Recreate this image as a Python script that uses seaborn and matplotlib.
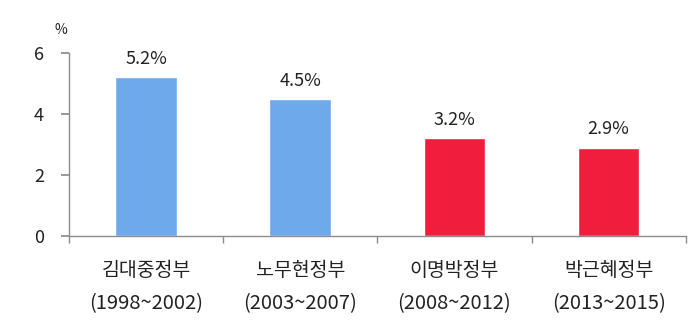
import matplotlib
matplotlib.use("Agg")
import matplotlib.pyplot as plt
import seaborn as sns
import pandas as pd

governments = ["김대중정부", "노무현정부", "이명박정부", "박근혜정부"]
periods = ["(1998~2002)", "(2003~2007)", "(2008~2012)", "(2013~2015)"]
values = [5.2, 4.5, 3.2, 2.9]
value_labels = ["5.2%", "4.5%", "3.2%", "2.9%"]
colors = ["#6EA9EC", "#6EA9EC", "#F01E3C", "#F01E3C"]
yticks = [0, 2, 4, 6]

sns.set_theme(style="white")
plt.rcParams['font.family'] = ['Noto Sans CJK KR', 'DejaVu Sans']

df = pd.DataFrame({"cat": governments, "val": values})
fig = plt.figure(figsize=(7, 3.23), dpi=100)
ax = fig.add_axes([0.0986, 0.269, 0.881, 0.567])
sns.barplot(data=df, x="cat", y="val", hue="cat", palette=colors, legend=False,
            width=0.4, ax=ax, saturation=1)
ax.set_ylim(0, 6)
ax.set_xlim(-0.5, 3.5)
ax.set_yticks(yticks)
ax.set_yticklabels([str(t) for t in yticks], fontsize=13, color="#222222")
ax.set_xlabel("")
ax.set_ylabel("")
for s in ["top", "right"]:
    ax.spines[s].set_visible(False)
for s in ["left", "bottom"]:
    ax.spines[s].set_color("#8c8c8c")
    ax.spines[s].set_linewidth(1.0)
ax.tick_params(axis="y", left=True, length=6, color="#8c8c8c", pad=12)
ax.set_xticks([])
ax.set_xticks([-0.5, 0.5, 1.5, 2.5, 3.5], minor=True)
ax.tick_params(axis="x", which="minor", bottom=True, length=5, color="#8c8c8c")
tr = ax.get_xaxis_transform()
axh = 183.0
for i, (g, p) in enumerate(zip(governments, periods)):
    ax.text(i, -(270 - 236) / axh, g, transform=tr, ha="center", va="center",
            fontsize=14, color="#222222")
    ax.text(i, -(303 - 236) / axh, p, transform=tr, ha="center", va="center",
            fontsize=14.5, color="#222222")
for i, (v, lab) in enumerate(zip(values, value_labels)):
    ax.text(i, v + 0.3, lab, ha="center", va="bottom", fontsize=13, color="#222222")
fig.text(61 / 700, 1 - 30 / 323, "%", ha="center", va="center", fontsize=10,
         color="#222222")
fig.savefig("out.png", dpi=100)
